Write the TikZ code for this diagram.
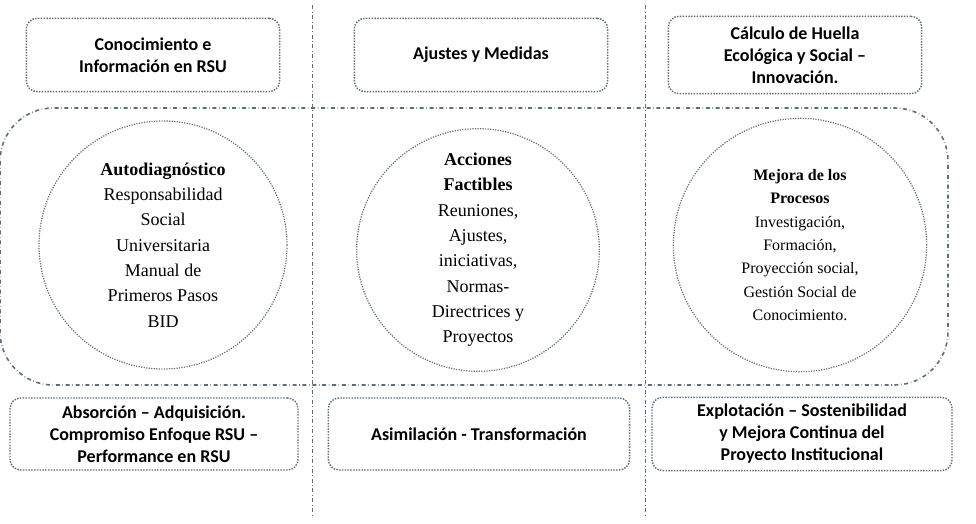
\documentclass[tikz,border=0pt]{standalone}
\usepackage{fontspec}
\setmainfont{Liberation Serif}
\setsansfont{Carlito}
\usetikzlibrary{positioning}
\definecolor{slate}{HTML}{5B6E80}

\begin{document}
\begin{tikzpicture}[
        x=0.75pt, y=-0.75pt,
        box/.style={rectangle, draw=slate, densely dotted, line width=1.1pt, rounded corners=8pt, align=center, font=\sffamily\bfseries\fontsize{13.5}{16.5}\selectfont, inner sep=0pt},
        ring/.style={circle, draw=slate, densely dotted, line width=0.9pt, align=center, font=\fontsize{13.5}{19}\selectfont, inner sep=0pt},
        divider/.style={draw=slate, dash dot, line width=0.5pt}
    ]
    \useasboundingbox (0,0) rectangle (976,524);

    % Divisores
    \coordinate (d1t) at (312,5);
    \coordinate (d1b) at (312,515);
    \coordinate (d2t) at (645,5);
    \coordinate (d2b) at (645,515);
    \draw [divider] (d1t) -- (d1b);
    \draw [divider] (d2t) -- (d2b);

    % Marco central
    \draw [draw=slate, dash dot, line width=1.2pt, rounded corners=40pt] (0,108) rectangle (948,385);

    % Cajas superiores
    \node (know) [box, minimum width=190pt, minimum height=55pt] at (153,55) {Conocimiento e\\Información en RSU};
    \node (adjust) [box, minimum width=190pt, minimum height=55pt] at (481,55) {Ajustes y Medidas};
    \node (footprint) [box, minimum width=190pt, minimum height=58pt] at (795,55) {Cálculo de Huella\\Ecológica y Social --\\Innovación.};

    % Circulos
    \node (self) [ring, minimum size=186pt] at (163,245) {\textbf{Autodiagnóstico}\\Responsabilidad\\Social\\Universitaria\\Manual de\\Primeros Pasos\\BID};
    \node (actions) [ring, minimum size=182pt] at (478,250) {\textbf{Acciones}\\\textbf{Factibles}\\Reuniones,\\Ajustes,\\iniciativas,\\Normas-\\Directrices y\\Proyectos};
    \node (improve) [ring, minimum size=190pt, font=\fontsize{12}{17.5}\selectfont] at (800,245) {\textbf{Mejora de los}\\\textbf{Procesos}\\Investigación,\\Formación,\\Proyección social,\\Gestión Social de\\Conocimiento.};

    % Cajas inferiores
    \node (absorb) [box, minimum width=216pt, minimum height=54pt] at (154,434) {Absorción -- Adquisición.\\Compromiso Enfoque RSU --\\Performance en RSU};
    \node (assim) [box, minimum width=226pt, minimum height=54pt] at (479,434) {Asimilación - Transformación};
    \node (exploit) [box, minimum width=225pt, minimum height=55pt] at (802,434) {Explotación -- Sostenibilidad\\y Mejora Continua del\\Proyecto Institucional};

\end{tikzpicture}
\end{document}
